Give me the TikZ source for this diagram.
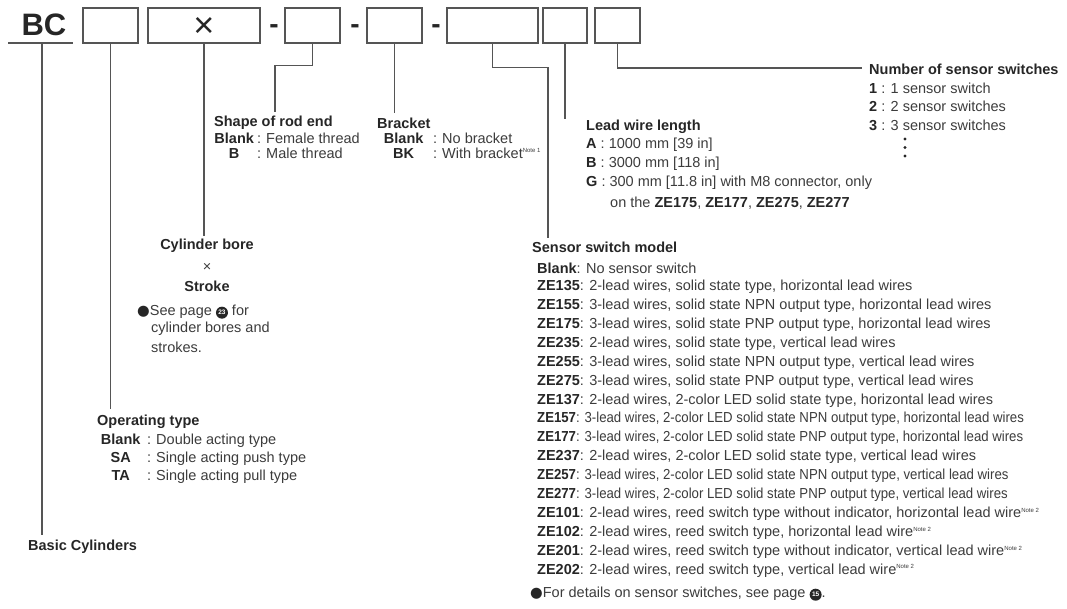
\documentclass[tikz,border=0pt]{standalone}
\usepackage{graphicx}
\usepackage{fontspec}
\setmainfont{Liberation Sans}
\newfontfamily\symfont{DejaVu Sans}
\usepackage{tikz}
\usetikzlibrary{positioning}

\definecolor{txtgray}{HTML}{3C3C3C}
\definecolor{lblgray}{HTML}{262626}
\definecolor{linegray}{HTML}{555555}

\newcommand\code[1]{{\bfseries\color{lblgray}#1}}
\newcommand\notemark[1]{\textsuperscript{\fontsize{6}{6}\selectfont Note~#1}}
\newcommand\keyrow[3]{\makebox[#1][c]{\code{#2}}\hspace{3pt}:\hspace{5pt}#3}
\newcommand\bulletmark{{\symfont\color{lblgray}●}}
\newcommand\pagebadge[1]{\tikz[baseline=-0.4ex]\node[circle, fill=lblgray, text=white, inner sep=0pt, minimum size=12pt, font=\fontsize{6.5}{6.5}\selectfont\bfseries]{#1};}

\begin{document}
\begin{tikzpicture}[
    x=1pt, y=-1pt,
    codebox/.style={draw=linegray, line width=1.3pt, minimum height=35pt, inner sep=0pt},
    lead/.style={draw=linegray, line width=1.3pt},
    body/.style={anchor=west, inner sep=0pt, text=txtgray, font=\fontsize{14.5}{17}\selectfont},
    head/.style={body, font=\fontsize{14.5}{17}\selectfont\bfseries, text=lblgray},
    sep/.style={anchor=base, inner sep=0pt, text=lblgray, font=\fontsize{28}{28}\selectfont\bfseries}
]
    \useasboundingbox (0,0) rectangle (1067,609);

    % Model code
    \node[inner sep=0pt, text=lblgray, font=\fontsize{31}{31}\selectfont\bfseries] (bc) at (44,25) {BC};
    \coordinate (bcleft) at (8,43);
    \coordinate (bcright) at (73,43);
    \coordinate (bcroot) at (42,43);
    \node[codebox, minimum width=55pt] (opbox) at (110.5,25.5) {};
    \node[codebox, minimum width=112pt] (borebox) at (204,25.5) {};
    \node[anchor=base, inner sep=0pt, text=lblgray, font=\fontsize{36}{36}\selectfont] (boretimes0) at (204,38) {×};
    \node[sep] (dash1) at (274,34) {-};
    \node[codebox, minimum width=55pt] (rodbox) at (312.5,25.5) {};
    \node[sep] (dash2) at (355,34) {-};
    \node[codebox, minimum width=55pt] (brbox) at (394.5,25.5) {};
    \node[sep] (dash3) at (436,34) {-};
    \node[codebox, minimum width=91pt] (swbox) at (492.5,25.5) {};
    \node[codebox, minimum width=44pt] (lwbox) at (565,25.5) {};
    \node[codebox, minimum width=45pt] (numbox) at (617.5,25.5) {};

    % Leaders
    \coordinate (rodfoot) at (275,112);
    \coordinate (swfoot) at (548,238);
    \coordinate (numfoot) at (862,68);
    \draw[lead] (bcleft) -- (bcright);
    \draw[lead] (bcroot) -- ++(0,492) coordinate (bcfoot);
    \draw[lead] (opbox.south) -- ++(0,365) coordinate (opfoot);
    \draw[lead] (borebox.south) -- ++(0,192) coordinate (borefoot);
    \draw[lead] (rodbox.south) -- ++(0,22) -| (rodfoot);
    \draw[lead] (brbox.south) -- ++(0,69) coordinate (brfoot);
    \draw[lead] (swbox.south) -- ++(0,24) -| (swfoot);
    \draw[lead] (lwbox.south) -- ++(0,75) coordinate (lwfoot);
    \draw[lead] (numbox.south) |- (numfoot);

    % Basic cylinders
    \node[head] (basic) at (28,547) {Basic Cylinders};

    % Operating type
    \node[head] (optitle) at (97,422) {Operating type};
    \node[body] (op1) at (97,441) {\keyrow{47pt}{Blank}{Double acting type}};
    \node[body] (op2) at (97,459) {\keyrow{47pt}{SA}{Single acting push type}};
    \node[body] (op3) at (97,477) {\keyrow{47pt}{TA}{Single acting pull type}};

    % Bore x stroke
    \node[head, anchor=center] (boretitle) at (207,246) {Cylinder bore};
    \node[body, anchor=center] (boretimes) at (207,267) {×};
    \node[head, anchor=center] (stroketitle) at (207,286) {Stroke};
    \node[body] (bore1) at (137,312) {\bulletmark See page \pagebadge{23} for};
    \node[body] (bore2) at (151,329) {cylinder bores and};
    \node[body] (bore3) at (151,347) {strokes.};

    % Rod end
    \node[head] (rodtitle) at (214,123) {Shape of rod end};
    \node[body] (rod1) at (214,138) {\keyrow{40pt}{Blank}{Female thread}};
    \node[body] (rod2) at (214,153) {\keyrow{40pt}{B}{Male thread}};

    % Bracket
    \node[head] (brtitle) at (377,123) {Bracket};
    \node[body] (br1) at (377,138) {\keyrow{53pt}{Blank}{No bracket}};
    \node[body] (br2) at (377,153) {\keyrow{53pt}{BK}{With bracket\notemark{1}}};

    % Lead wire length
    \node[head] (lwtitle) at (586,127) {Lead wire length};
    \node[body] (lw1) at (586,145) {\code{A} : 1000 mm [39 in]};
    \node[body] (lw2) at (586,164) {\code{B} : 3000 mm [118 in]};
    \node[body] (lw3) at (586,183) {\code{G} : 300 mm [11.8 in] with M8 connector, only};
    \node[body] (lw4) at (610,203) {on the \code{ZE175}, \code{ZE177}, \code{ZE275}, \code{ZE277}};

    % Number of sensor switches
    \node[head] (numtitle) at (869,69) {Number of sensor switches};
    \node[body] (num1) at (869,88) {\code{1} : 1 sensor switch};
    \node[body] (num2) at (869,106) {\code{2} : 2 sensor switches};
    \node[body] (num3) at (869,125) {\code{3} : 3 sensor switches};
    \foreach \dy in {139,147.5,156}
        \fill[lblgray] (905,\dy) circle (1.6);

    % Sensor switch model
    \node[head] (swtitle) at (532,247) {Sensor switch model};
    \foreach \swid/\swtext/\swx [count=\i from 0] in {
        Blank/{No sensor switch}/1,
        ZE135/{2-lead wires, solid state type, horizontal lead wires}/1,
        ZE155/{3-lead wires, solid state NPN output type, horizontal lead wires}/1,
        ZE175/{3-lead wires, solid state PNP output type, horizontal lead wires}/1,
        ZE235/{2-lead wires, solid state type, vertical lead wires}/1,
        ZE255/{3-lead wires, solid state NPN output type, vertical lead wires}/1,
        ZE275/{3-lead wires, solid state PNP output type, vertical lead wires}/1,
        ZE137/{2-lead wires, 2-color LED solid state type, horizontal lead wires}/1,
        ZE157/{3-lead wires, 2-color LED solid state NPN output type, horizontal lead wires}/0.91,
        ZE177/{3-lead wires, 2-color LED solid state PNP output type, horizontal lead wires}/0.91,
        ZE237/{2-lead wires, 2-color LED solid state type, vertical lead wires}/1,
        ZE257/{3-lead wires, 2-color LED solid state NPN output type, vertical lead wires}/0.91,
        ZE277/{3-lead wires, 2-color LED solid state PNP output type, vertical lead wires}/0.91,
        ZE101/{2-lead wires, reed switch type without indicator, horizontal lead wire\notemark{2}}/1,
        ZE102/{2-lead wires, reed switch type, horizontal lead wire\notemark{2}}/1,
        ZE201/{2-lead wires, reed switch type without indicator, vertical lead wire\notemark{2}}/1,
        ZE202/{2-lead wires, reed switch type, vertical lead wire\notemark{2}}/1}
        \node[body] (sw-\i) at (537,268+18.9*\i) {\scalebox{\swx}[1]{\code{\swid}: \swtext}};
    \node[body] (swnote) at (530,594) {\bulletmark For details on sensor switches, see page \pagebadge{15}.};

\end{tikzpicture}
\end{document}
